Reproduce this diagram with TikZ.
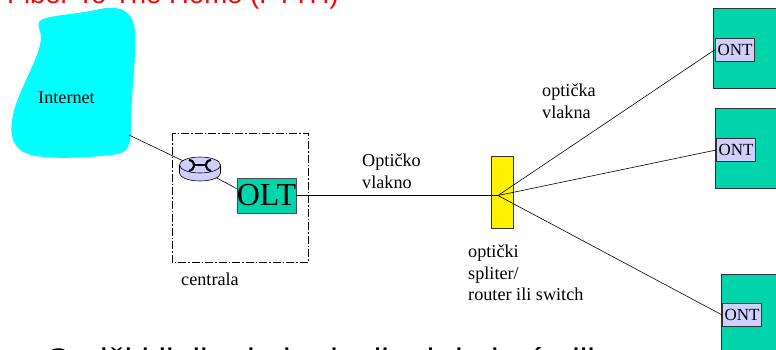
\documentclass[tikz,border=0pt]{standalone}
\usepackage{fontspec}
\setmainfont{Liberation Serif}
\newfontfamily\titlefont{Liberation Sans}
\definecolor{ontgreen}{RGB}{0,212,170}
\definecolor{routerblue}{RGB}{208,208,255}
\definecolor{cloudcyan}{RGB}{0,255,255}
\tikzset{
  lbl/.style={inner sep=0pt,align=left,font=\fontsize{18.2}{21.5}\selectfont},
  ontbox/.style={draw=black!80,fill=ontgreen,line width=0.7pt,anchor=north west,minimum width=80pt,minimum height=80pt},
  ontlbl/.style={draw=black!80,fill=routerblue,line width=0.7pt,inner sep=0pt,minimum width=39pt,minimum height=23pt,font=\fontsize{17}{17}\selectfont},
  fibre/.style={line width=0.6pt}
}
\begin{document}
\begin{tikzpicture}[x=1pt,y=1pt,yscale=-1]
\useasboundingbox (0,0) rectangle (776,349);

%Shape: Internet cloud
\draw [draw=none,fill=cloudcyan] (39,22) .. controls (43,15) and (75,15) .. (100,9) .. controls (125,4) and (135,15) .. (135,35) .. controls (136,65) and (131,90) .. (131,130) .. controls (131,145) and (127,152) .. (118,154) .. controls (90,158) and (45,160) .. (28,154) .. controls (12,148) and (9,135) .. (13,115) .. controls (18,90) and (40,58) .. (41,38) .. controls (41,30) and (37,28) .. (39,22) -- cycle ;
\coordinate (cloudedge) at (129,135);
% Text Node
\node [lbl] (internet) at (66.5,98) {Internet};

%Shape: Central office
\draw [dash pattern=on 8pt off 2pt on 1.5pt off 2pt,line width=0.5pt] (172,133) rectangle (308,262);
% Text Node
\node [lbl] (centrala) at (210,279) {centrala};

%Shape: Splitter
\node [draw=black!80,fill=yellow,line width=0.7pt,minimum width=22pt,minimum height=72pt,inner sep=0pt] (splitter) at (502,192) {};
\coordinate (hub) at (498,195.5);

%Shape: OLT
\node [draw=black!70,fill=ontgreen,inner sep=0pt,minimum width=57pt,minimum height=35pt,font=\fontsize{32}{32}\selectfont] (olt) at (266.5,195.5) {OLT};

%Shape: ONT boxes
\node [ontbox] (home1) at (713,8) {};
\node [ontlbl] (ont1) at (735,49.5) {ONT};
\node [ontbox] (home2) at (715,108) {};
\node [ontlbl] (ont2) at (736,150) {ONT};
\node [ontbox] (home3) at (721,274) {};
\node [ontlbl] (ont3) at (742,315) {ONT};

%Connectors
\coordinate (router) at (200,169);
\draw [fibre] (cloudedge) -- (router);
\draw [fibre] (router) -- (olt.167);
\draw [fibre] (olt) -- (hub);
\draw [fibre] (hub) -- (ont1.west);
\draw [fibre] (hub) -- (ont2.west);
\draw [fibre] (hub) -- (ont3.west);

%Shape: Router
\draw [fill=routerblue,line width=0.6pt] (179.5,165) -- (179.5,173) arc[start angle=180,end angle=0,x radius=20.5,y radius=8] -- (220.5,165) -- cycle ;
\draw [fill=routerblue,line width=0.6pt] (200,165) ellipse (20.5 and 8);
\draw [line width=2.2pt] (189,160) .. controls (196,161) and (196,169) .. (189,171) ;
\draw [line width=2.2pt] (211,160) .. controls (204,161) and (204,169) .. (211,171) ;
\draw [line width=2.2pt] (195,165) -- (205,165);

% Text Node
\node [lbl,anchor=north west] (vlakno) at (362,154) {Optičko\\vlakno};
% Text Node
\node [lbl,anchor=north west] (vlakna) at (542,84) {optička\\vlakna};
% Text Node
\node [lbl,anchor=north west] (spliter) at (468,245) {optički\\spliter/\\router ili switch};

% Text Node
\node [anchor=base west,inner sep=0pt,text=red,font=\titlefont\fontsize{27.5}{28}\selectfont] (title) at (7,3) {Fiber To The Home (FTTH)};
% Text Node
\node [anchor=base west,inner sep=0pt,font=\titlefont\fontsize{34}{34}\selectfont] (note) at (45,372) {Optički linija do korisnika i do kuće ili stana};
\end{tikzpicture}
\end{document}
